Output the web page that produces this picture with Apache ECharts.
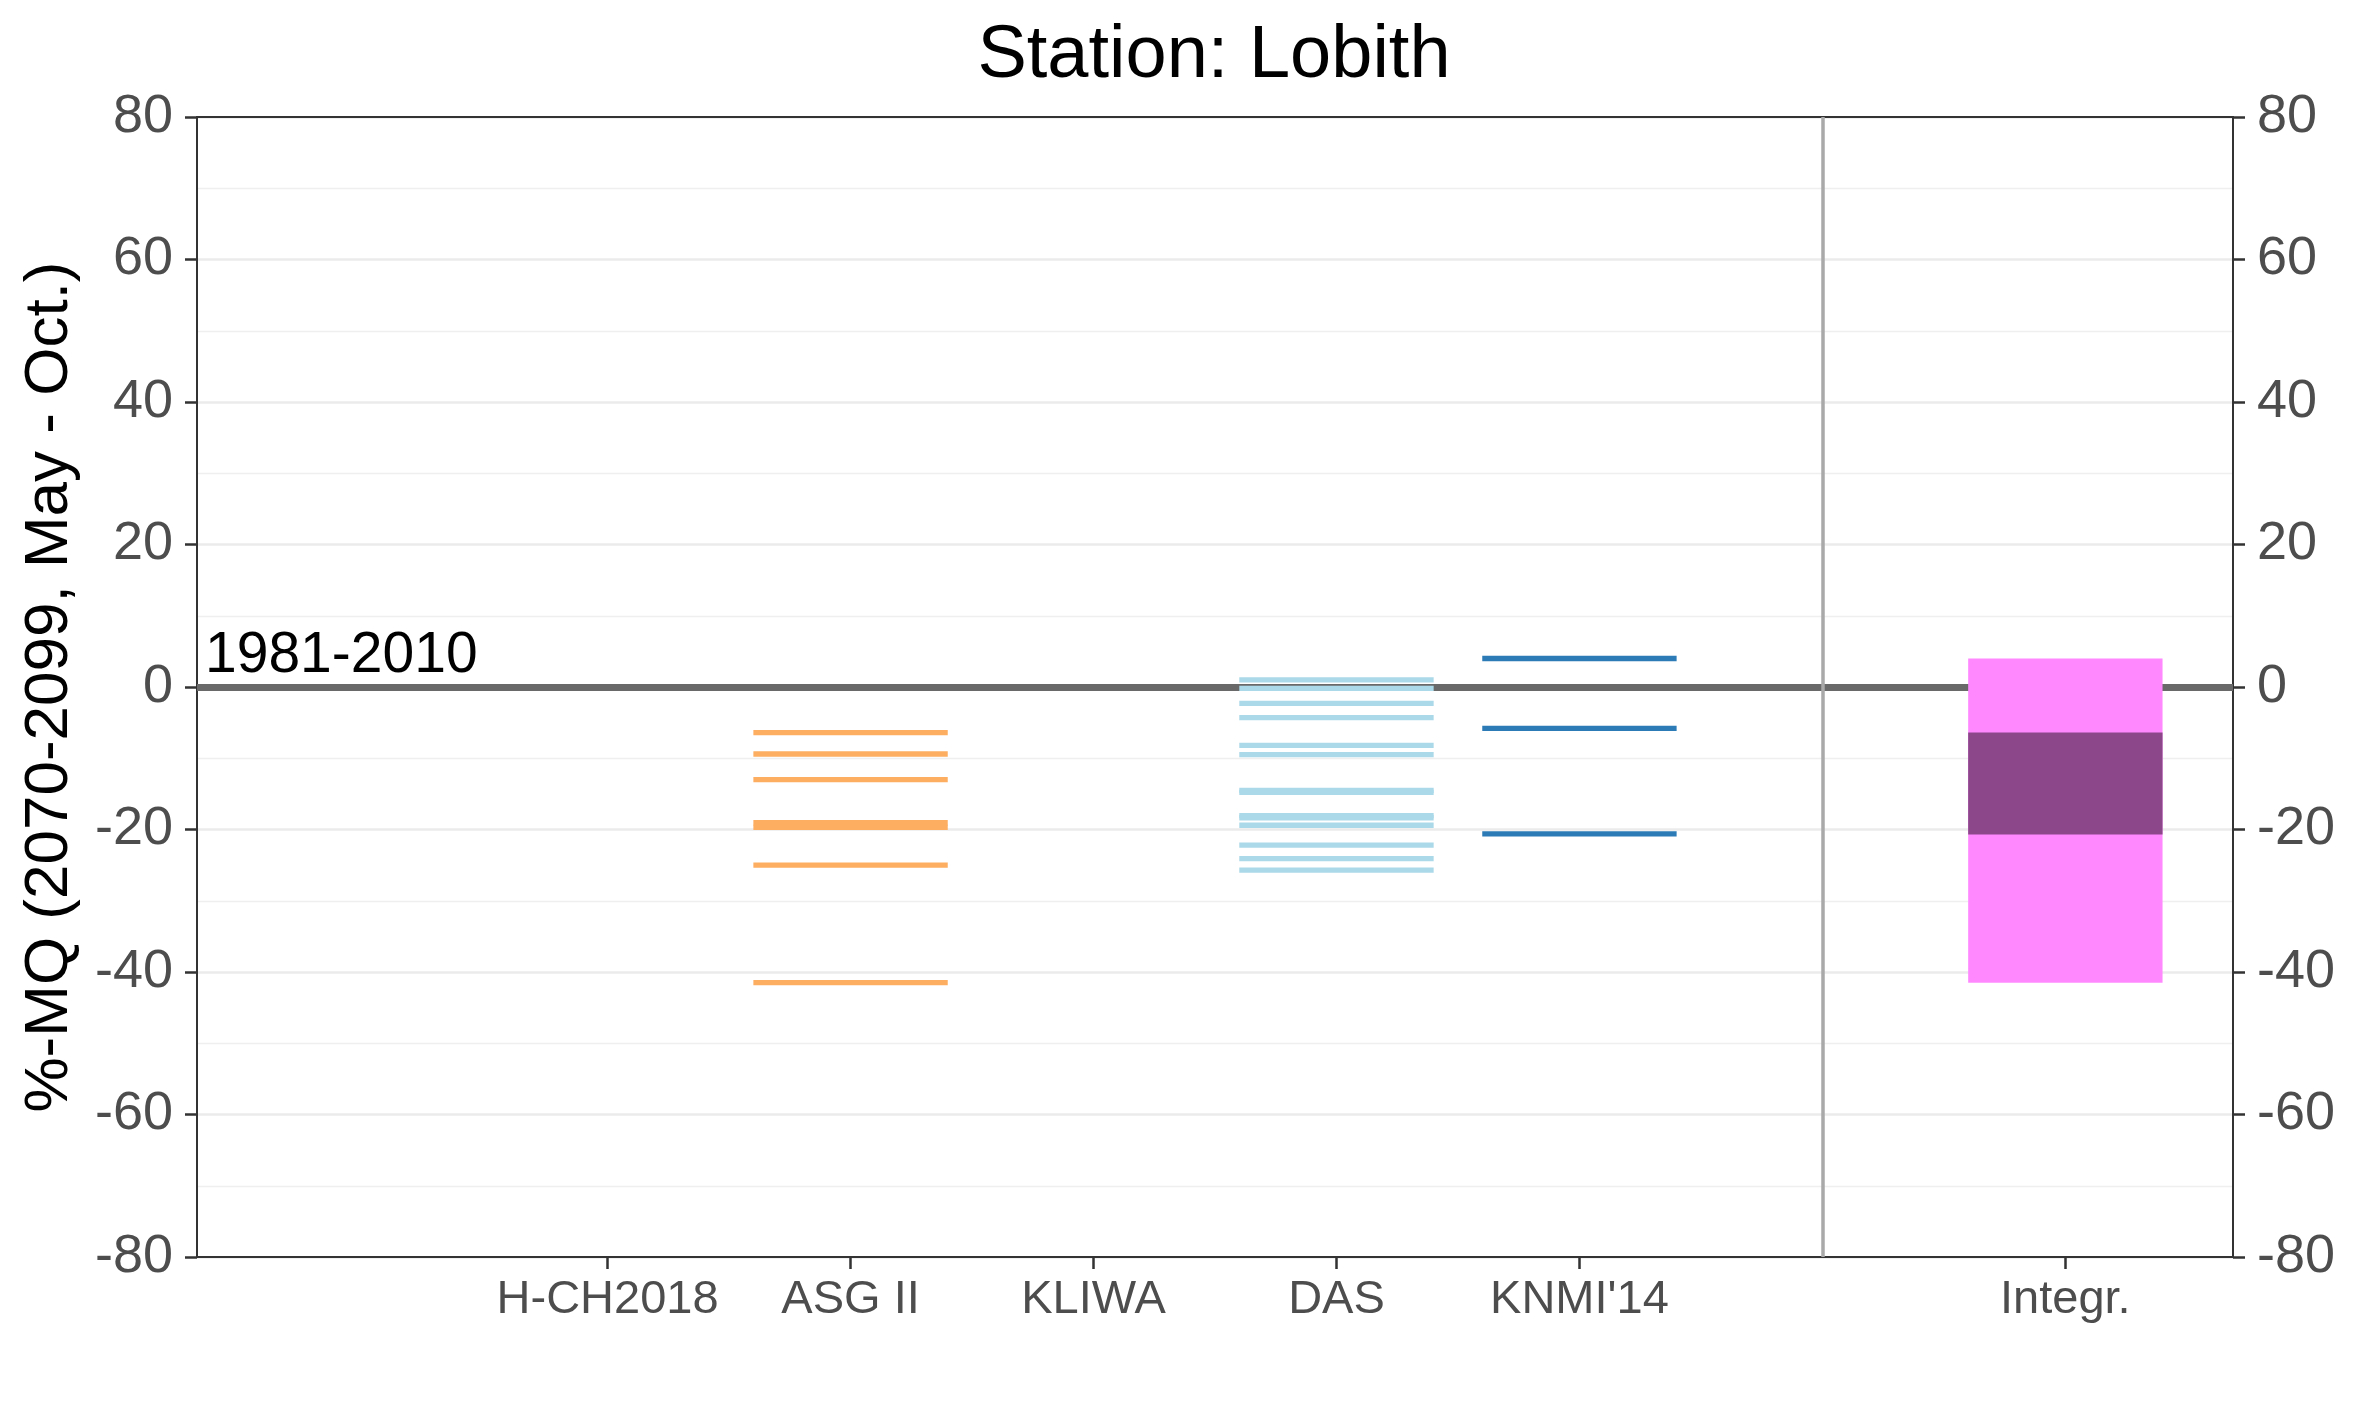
<!DOCTYPE html>
<html>
<head>
<meta charset="utf-8">
<script src="https://cdn.jsdelivr.net/npm/echarts@6/dist/echarts.min.js"></script>
<style>html,body{margin:0;padding:0;background:#fff}#c{width:2362px;height:1417px}</style>
</head>
<body>
<div id="c"></div>
<script>
// Categories and their x positions (position 6 is an empty separator slot)
const categories = ['H-CH2018', 'ASG II', 'KLIWA', 'DAS', "KNMI'14", '', 'Integr.'];
const categoryPositions = [1, 2, 3, 4, 5, 7];
const separatorPosition = 6;

// Projected change values (%-MQ)
const hch2018 = [];
const asgII = [-6.4, -9.4, -13.0, -19.05, -19.7, -25.0, -41.5];
const kliwa = [];
const das = [1.0, -0.2, -2.3, -4.3, -8.2, -9.5, -14.5, -14.8, -18.05, -18.35, -19.4, -22.2, -24.1, -25.7];
const knmi14 = [4.0, -5.8, -20.6];

// Integrated range: full range and core band
const integrRange = [4.0, -41.5];
const integrCore = [-6.4, -20.7];

// Y axis ticks
const yTicks = [-80, -60, -40, -20, 0, 20, 40, 60, 80];

const FONT = '"Liberation Sans", Arial, sans-serif';
const HALF = 0.4;

function segSeries(name, pos, values, color) {
  return {
    name: name,
    type: 'custom',
    z: 5,
    encode: { x: 0, y: 1 },
    data: values.map(v => [pos, v]),
    renderItem: function (params, api) {
      const x = api.value(0), y = api.value(1);
      const p1 = api.coord([x - HALF, y]);
      const p2 = api.coord([x + HALF, y]);
      return { type: 'line', shape: { x1: p1[0], y1: p1[1], x2: p2[0], y2: p2[1] },
               style: { stroke: color, lineWidth: 5.3 } };
    }
  };
}

function boxSeries(name, pos, range, color, z) {
  return {
    name: name,
    type: 'custom',
    z: z,
    encode: { x: 0, y: 1 },
    data: [[pos, range[0], range[1]]],
    renderItem: function (params, api) {
      const x = api.value(0);
      const a = api.coord([x - HALF, api.value(1)]);
      const b = api.coord([x + HALF, api.value(2)]);
      return { type: 'rect', shape: { x: a[0], y: a[1], width: b[0] - a[0], height: b[1] - a[1] },
               style: { fill: color } };
    }
  };
}

const axisLineStyle = { color: '#333', width: 2 };
const chart = echarts.init(document.getElementById('c'), null, { renderer: 'canvas' });
chart.setOption({
  animation: false,
  backgroundColor: '#ffffff',
  title: {
    text: 'Station: Lobith', left: 1209, textAlign: 'center', top: 15,
    textStyle: { fontFamily: FONT, fontSize: 74, fontWeight: 'normal', color: '#000' }
  },
  grid: { left: 197, right: 129, top: 117, bottom: 160, show: false },
  xAxis: [
    {
      type: 'value', min: -0.69, max: 7.69, position: 'bottom',
      splitLine: { show: false },
      axisLine: { show: true, onZero: false, lineStyle: axisLineStyle },
      axisTick: { show: true, customValues: categoryPositions, length: 12, lineStyle: { color: '#333', width: 2.5 } },
      axisLabel: {
        customValues: categoryPositions, margin: 20,
        fontFamily: FONT, fontSize: 47, color: '#4D4D4D',
        formatter: v => categories[Math.round(v) - 1] || ''
      }
    },
    {
      type: 'value', min: -0.69, max: 7.69, position: 'top',
      splitLine: { show: false },
      axisLine: { show: true, onZero: false, lineStyle: axisLineStyle },
      axisTick: { show: false }, axisLabel: { show: false }
    }
  ],
  yAxis: [
    {
      type: 'value', min: -80, max: 80, interval: 20, position: 'left',
      name: '%-MQ (2070-2099, May - Oct.)', nameLocation: 'middle', nameRotate: 90, nameGap: 116,
      nameTextStyle: { fontFamily: FONT, fontSize: 62, color: '#000' },
      axisLine: { show: true, onZero: false, lineStyle: axisLineStyle },
      axisTick: { show: true, length: 12, lineStyle: { color: '#333', width: 2.5 } },
      axisLabel: { fontFamily: FONT, fontSize: 54, color: '#4D4D4D', margin: 24 },
      splitLine: { show: true, lineStyle: { color: '#EBEBEB', width: 2.5 } },
      minorTick: { show: false, splitNumber: 2 },
      minorSplitLine: { show: true, lineStyle: { color: '#EFEFEF', width: 1.3 } }
    },
    {
      type: 'value', min: -80, max: 80, interval: 20, position: 'right',
      axisLine: { show: true, onZero: false, lineStyle: axisLineStyle },
      axisTick: { show: true, length: 12, lineStyle: { color: '#333', width: 2.5 } },
      axisLabel: { fontFamily: FONT, fontSize: 54, color: '#4D4D4D', margin: 24 },
      splitLine: { show: false }
    }
  ],
  series: [
    {
      name: 'reference', type: 'line', data: [], z: 1, silent: true,
      markLine: {
        symbol: 'none', silent: true, animation: false,
        data: [
          { yAxis: 0, lineStyle: { color: '#696969', width: 7, type: 'solid' },
            label: { show: true, position: 'insideStartTop', formatter: '1981-2010', distance: [8, 2],
                     fontFamily: FONT, fontSize: 57, color: '#000' } },
          { xAxis: separatorPosition, lineStyle: { color: '#A9A9A9', width: 3.5, type: 'solid' }, label: { show: false } }
        ]
      }
    },
    segSeries('H-CH2018', 1, hch2018, '#D7191C'),
    segSeries('ASG II', 2, asgII, '#FDAE61'),
    segSeries('KLIWA', 3, kliwa, '#A6D96A'),
    segSeries('DAS', 4, das, '#ABD9E9'),
    segSeries("KNMI'14", 5, knmi14, '#2C7BB6'),
    boxSeries('Integr. range', 7, integrRange, '#FF88FF', 6),
    boxSeries('Integr. core', 7, integrCore, '#8B4789', 7)
  ]
});
</script>
</body>
</html>
